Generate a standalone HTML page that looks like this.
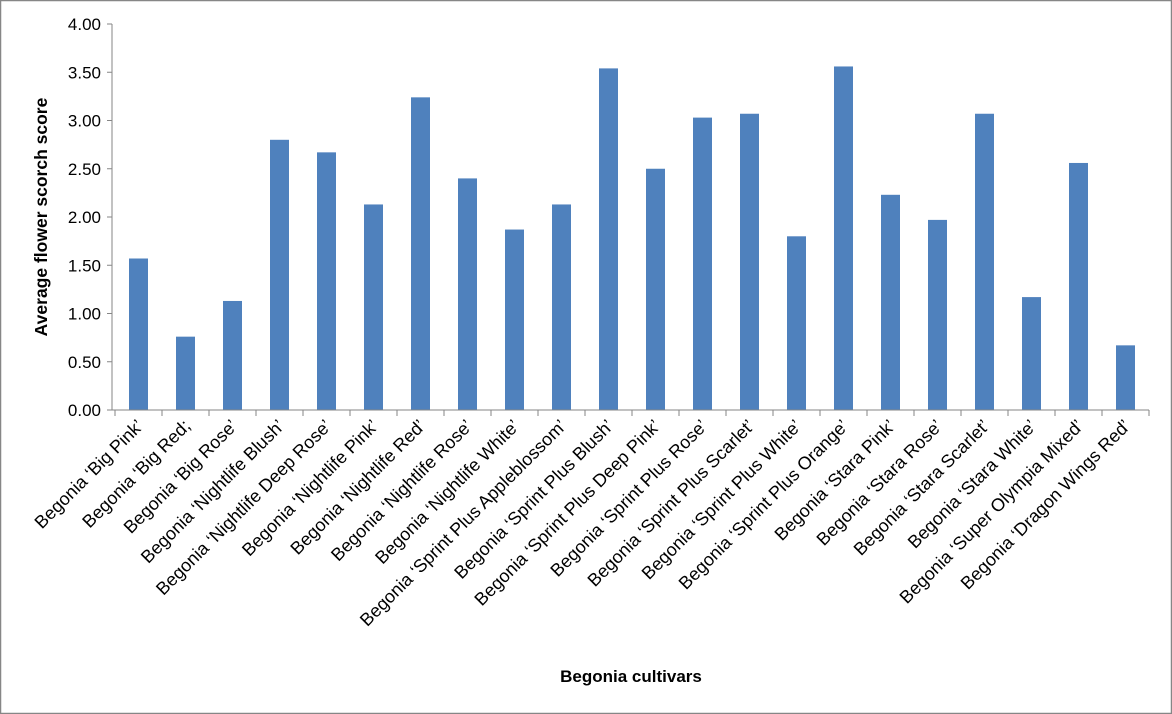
<!DOCTYPE html>
<html><head><meta charset="utf-8"><style>
body{margin:0;background:#fff}
svg{display:block;font-family:"Liberation Sans",Carlito,sans-serif}
</style></head><body>
<svg id="chart" width="1172" height="714">
<rect x="0.5" y="0.5" width="1171" height="713" fill="#fff" stroke="#868686" stroke-width="1.5"/>
<g id="grid"></g><g id="bars"></g><g id="axes"></g>
<text x="47" y="217" transform="rotate(-90 47 217)" text-anchor="middle" font-size="17.5" font-weight="bold">Average flower scorch score</text>
<text x="631" y="682" text-anchor="middle" font-size="17" font-weight="bold">Begonia cultivars</text>
</svg>
<script>
const categories=["Begonia \u2018Big Pink\u2019","Begonia \u2018Big Red;","Begonia \u2018Big Rose\u2019","Begonia \u2018Nightlife Blush\u2019","Begonia \u2018Nightlife Deep Rose\u2019","Begonia \u2018Nightlife Pink\u2019","Begonia \u2018Nightlife Red\u2019","Begonia \u2018Nightlife Rose\u2019","Begonia \u2018Nightlife White\u2019","Begonia \u2018Sprint Plus Appleblossom\u2019","Begonia \u2018Sprint Plus Blush\u2019","Begonia \u2018Sprint Plus Deep Pink\u2019","Begonia \u2018Sprint Plus Rose\u2019","Begonia \u2018Sprint Plus Scarlet\u2019","Begonia \u2018Sprint Plus White\u2019","Begonia \u2018Sprint Plus Orange\u2019","Begonia \u2018Stara Pink\u2019","Begonia \u2018Stara Rose\u2019","Begonia \u2018Stara Scarlet\u2019","Begonia \u2018Stara White\u2019","Begonia \u2018Super Olympia Mixed\u2019","Begonia \u2018Dragon Wings Red\u2019"];
const values=[1.57,0.76,1.13,2.80,2.67,2.13,3.24,2.40,1.87,2.13,3.54,2.50,3.03,3.07,1.80,3.56,2.23,1.97,3.07,1.17,2.56,0.67];
const yTicks=[0,0.5,1,1.5,2,2.5,3,3.5,4];
const NS="http://www.w3.org/2000/svg";
const x0=115,x1=1149,y0=410,y1=24,ymax=4;
const bw=(x1-x0)/categories.length;
function yScale(v){return y0-(v/ymax)*(y0-y1);}
function xScale(i){return x0+i*bw;}
const axes=document.getElementById('axes'),bars=document.getElementById('bars');
function mk(t,a,p){const e=document.createElementNS(NS,t);for(const k in a)e.setAttribute(k,a[k]);p.appendChild(e);return e;}
const ya=mk('line',{x1:x0-3,y1:y0,x2:x0-3,y2:y1,stroke:'#868686'},axes);


yTicks.forEach(t=>{
 const y=yScale(t);
 mk('line',{x1:x0-8,y1:y,x2:x0-3,y2:y,stroke:'#868686'},axes);
 const tx=mk('text',{x:x0-14,y:y+6,'text-anchor':'end','font-size':'17',fill:'#000'},axes);
 tx.textContent=t.toFixed(2);
 
 
});
const xa=mk('line',{x1:x0-8,y1:y0,x2:x1,y2:y0,stroke:'#868686'},axes);


categories.forEach((c,i)=>{
 const xs=xScale(i);
 mk('line',{x1:xs,y1:y0,x2:xs,y2:y0+6,stroke:'#868686'},axes);
 const cx=xs+bw/2;
 const b=mk('rect',{x:cx-9.5,y:yScale(values[i]),width:19,height:y0-yScale(values[i]),fill:'#4f81bd'},bars);
 
 
 const tx=mk('text',{x:cx+6,y:y0+17,'text-anchor':'end','font-size':'18',transform:`rotate(-45 ${cx+6} ${y0+17})`},axes);
 tx.textContent=c;
 
 
});
mk('line',{x1:x1,y1:y0,x2:x1,y2:y0+6,stroke:'#868686'},axes);
</script>
</body></html>
